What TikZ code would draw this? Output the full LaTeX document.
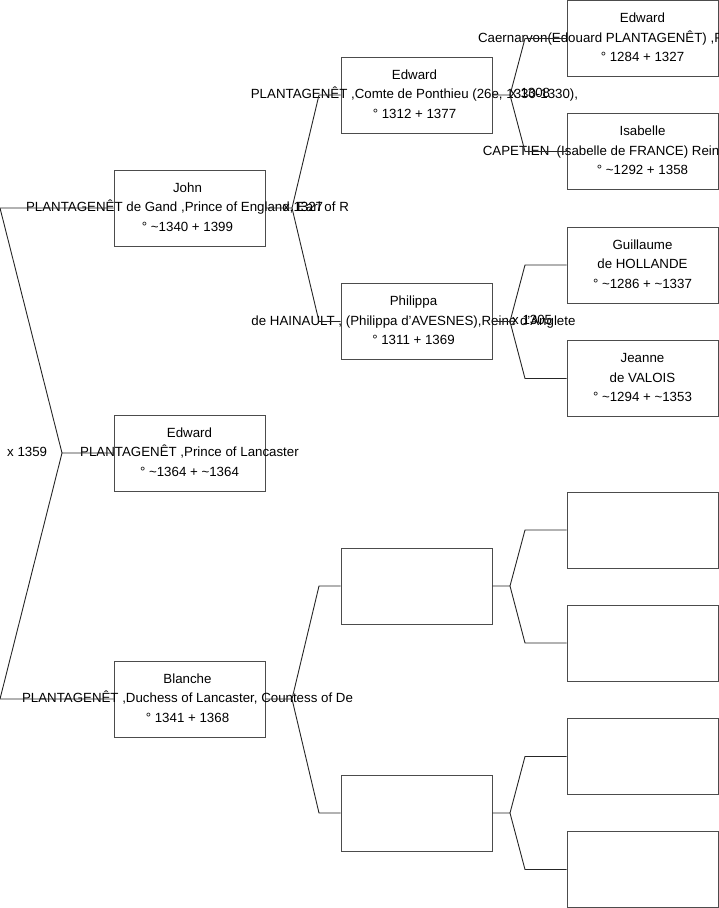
\documentclass[tikz,border=0pt]{standalone}
\usepackage{fontspec}
\setmainfont{Liberation Sans}
\begin{document}
\begin{tikzpicture}[x=1pt,y=-1pt,
  person/.style={draw=black!70, fill=white, line width=0.9pt, minimum width=151pt, minimum height=76pt, inner sep=0pt},
  info/.style={align=center, font=\fontsize{13.3}{19.5}\selectfont, inner sep=0pt, yshift=1pt},
  wed/.style={font=\fontsize{13.3}{15}\selectfont, inner sep=0pt, anchor=west},
  link/.style={draw=black!85, line width=0.9pt}]
\useasboundingbox (0,0) rectangle (719,908);
\clip (0,0) rectangle (719,908);
% column 1
\node[person] (J)  at (189.5,208) {};
\node[person] (E1) at (189.5,453) {};
\node[person] (B)  at (189.5,699) {};
% column 2
\node[person] (E3) at (416.5,95) {};
\node[person] (P)  at (416.5,321.5) {};
\node[person] (X1) at (416.5,586) {};
\node[person] (X2) at (416.5,813) {};
% column 3
\node[person] (E2) at (642.5,38.5) {};
\node[person] (I)  at (642.5,151.5) {};
\node[person] (G)  at (642.5,265) {};
\node[person] (Jn) at (642.5,378.5) {};
\node[person] (Y1) at (642.5,530) {};
\node[person] (Y2) at (642.5,643) {};
\node[person] (Y3) at (642.5,756.5) {};
\node[person] (Y4) at (642.5,869.5) {};
% texts
\node[info] (Jt)  at ([xshift=-2pt]J.center)  {John\\PLANTAGENÊT de Gand ,Prince of England, Earl of R\\° \textasciitilde1340 + 1399};
\node[info] (E1t) at (E1.center) {Edward\\PLANTAGENÊT ,Prince of Lancaster\\° \textasciitilde1364 + \textasciitilde1364};
\node[info] (Bt)  at ([xshift=-2pt]B.center)  {Blanche\\PLANTAGENÊT ,Duchess of Lancaster, Countess of De\\° 1341 + 1368};
\node[info] (E3t) at ([xshift=-2pt]E3.center) {Edward\\PLANTAGENÊT ,Comte de Ponthieu (26e, 1330-1330),\\° 1312 + 1377};
\node[info] (Pt)  at ([xshift=-3pt]P.center)  {Philippa\\de HAINAULT , (Philippa d'AVESNES),Reine d'Anglete\\° 1311 + 1369};
\node[info] (E2t) at (E2.center) {Edward\\Caernarvon(Edouard PLANTAGENÊT) ,Prince of Wales\\° 1284 + 1327};
\node[info] (It)  at (I.center)  {Isabelle\\CAPETIEN\ \ (Isabelle de FRANCE) Reine d'Angleterre\\° \textasciitilde1292 + 1358};
\node[info] (Gt)  at (G.center)  {Guillaume\\de HOLLANDE\\° \textasciitilde1286 + \textasciitilde1337};
\node[info] (Jnt) at (Jn.center) {Jeanne\\de VALOIS\\° \textasciitilde1294 + \textasciitilde1353};
% fork points
\coordinate (fR) at (62,453);
\coordinate (fJ) at (292,208);
\coordinate (fB) at (292,699);
\coordinate (fE) at (510,95);
\coordinate (fP) at (510,321.5);
\coordinate (f1) at (510,586);
\coordinate (f2) at (510,813);
% connectors
\draw[link] (E1.west) -- (fR) -- (0,208) -- (J.west);
\draw[link] (fR) -- (0,699) -- (B.west);
\draw[link] (J.east) -- (fJ) -- (319,95) -- (E3.west);
\draw[link] (fJ) -- (319,321.5) -- (P.west);
\draw[link] (B.east) -- (fB) -- (319,586) -- (X1.west);
\draw[link] (fB) -- (319,813) -- (X2.west);
\draw[link] (E3.east) -- (fE) -- (525,38.5) -- (E2.west);
\draw[link] (fE) -- (525,151.5) -- (I.west);
\draw[link] (P.east) -- (fP) -- (525,265) -- (G.west);
\draw[link] (fP) -- (525,378.5) -- (Jn.west);
\draw[link] (X1.east) -- (f1) -- (525,530) -- (Y1.west);
\draw[link] (f1) -- (525,643) -- (Y2.west);
\draw[link] (X2.east) -- (f2) -- (525,756.5) -- (Y3.west);
\draw[link] (f2) -- (525,869.5) -- (Y4.west);
% marriage labels
\node[wed] (mR) at (7,452) {x 1359};
\node[wed] (mJ) at (283,207) {x 1327};
\node[wed] (mE) at (510,93) {x 1308};
\node[wed] (mP) at (512,319.5) {x 1305};
\end{tikzpicture}
\end{document}
